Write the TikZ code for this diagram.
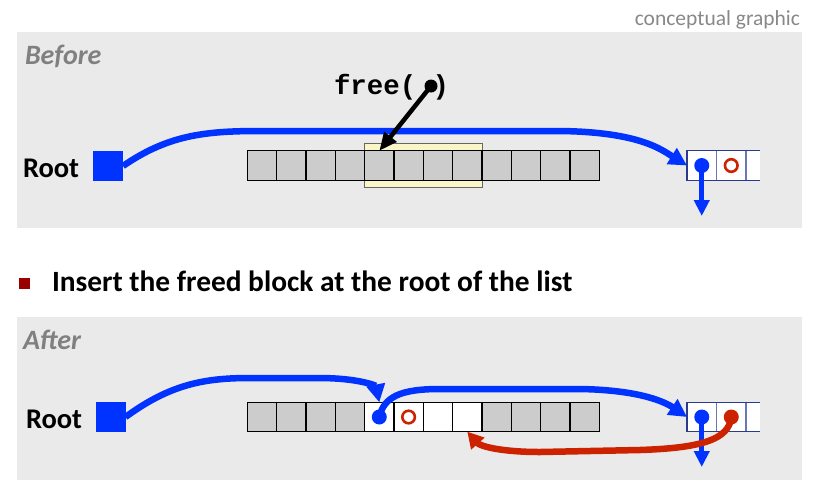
\documentclass[tikz,border=0pt]{standalone}
\usepackage{fontspec}
\setmainfont{Carlito}
\newfontfamily\codefont{Liberation Mono}
\usetikzlibrary{arrows.meta}

\definecolor{panelbg}{HTML}{EAEAEA}
\definecolor{ptrblue}{HTML}{0033FF}
\definecolor{ptrred}{HTML}{CC2200}
\definecolor{cellgray}{HTML}{CCCCCC}
\definecolor{hilite}{HTML}{FAF6C8}
\definecolor{labelgray}{HTML}{808080}
\definecolor{notegray}{HTML}{888888}
\definecolor{bulletred}{HTML}{990000}
\definecolor{listnavy}{HTML}{2B3A8F}
\definecolor{listdiv}{HTML}{6B77B5}

\begin{document}
\begin{tikzpicture}[x=1pt,y=-1pt,
  every node/.style={inner sep=0pt, outer sep=0pt},
  panel/.style={fill=panelbg},
  heapcell/.style={draw=black, line width=1.3pt, fill=cellgray,
    minimum width=29.33pt, minimum height=29.33pt},
  freecell/.style={heapcell, fill=white},
  listcell/.style={fill=white, minimum width=29.5pt, minimum height=29.5pt},
  phase/.style={font=\fontsize{28}{30}\selectfont\bfseries\itshape, text=labelgray, anchor=base west},
  rootlabel/.style={font=\fontsize{28.5}{30}\selectfont\bfseries, anchor=base west},
  rootbox/.style={fill=ptrblue, minimum size=30pt},
  bluedot/.style={circle, fill=ptrblue, minimum size=15pt},
  reddot/.style={circle, fill=ptrred, minimum size=15pt},
  redring/.style={ptrred, line width=2.6pt},
  bluelink/.style={draw=ptrblue, line width=6.5pt, -{Triangle[length=18pt,width=18pt]}},
  redlink/.style={draw=ptrred, line width=6.5pt, -{Triangle[length=16pt,width=17pt]}},
  nextlink/.style={draw=ptrblue, line width=5pt, -{Triangle[length=16pt,width=15pt]}},
  freelink/.style={draw=black, line width=4.5pt, -{Triangle[length=18pt,width=15pt]}}
]
\useasboundingbox (0,0) rectangle (818,480);

% caption in the corner
\node[font=\fontsize{21.5}{24}\selectfont, text=notegray, anchor=base east] (note) at (800,25) {conceptual graphic};

% ---------------- Before ----------------
\fill[panel] (17,32) rectangle (802,228);
\node[phase] (before) at (25,64) {Before};
\node[rootlabel] (rootBtxt) at (23,177) {Root};
\node[rootbox] (rootB) at (108,166) {};

% block being freed
\fill[hilite] (364.3,143.3) rectangle (482.3,187.3);
\draw[line width=1.2pt, draw=black!60] (364.3,143.3) rectangle (482.3,187.3);
\foreach \i in {1,...,12}
  \node[heapcell] (b\i) at ({247.3+29.33*(\i-1)+14.67},165.5) {};

% free list entry
\node[listcell] (lb1) at (701.75,165.5) {};
\node[listcell] (lb2) at (731.25,165.5) {};
\fill[white] (746,150.75) rectangle (760,180.25);
\draw[listdiv, line width=1.2pt] (lb1.north east) -- (lb1.south east);
\draw[listdiv, line width=1.2pt] (lb2.north east) -- (lb2.south east);
\draw[listnavy, line width=1.3pt] (760,150.75) -- (lb1.north west) -- (lb1.south west) -- (760,180.25);
\coordinate (ringB) at (lb2.center);
\draw[redring] (ringB) circle [radius=6.3pt];
\node[bluedot] (dotB) at (lb1.center) {};
\coordinate (downB) at (701.75,216);
\draw[nextlink] (dotB.center) -- (downB);

% root pointer
\coordinate (topB1) at (260,131);
\coordinate (topB2) at (560,131);
\draw[bluelink] (rootB.east) .. controls +(45,-31) and (205,131) .. (topB1)
  -- (topB2) .. controls (640,132) and (662,150) .. (lb1.west);

% call of free
\node[font=\fontsize{27.4}{30}\selectfont\codefont\bfseries, anchor=base west] (call) at (334,94) {free(\ )};
\node[circle, fill=black, minimum size=13pt] (argdot) at (431,86) {};
\draw[freelink] (argdot.center) -- (b5.north);

% ---------------- caption ----------------
\fill[bulletred] (19,278) rectangle (30,289);
\node[font=\fontsize{29.4}{32}\selectfont\bfseries, anchor=base west] (step) at (52,291) {Insert the freed block at the root of the list};

% ---------------- After ----------------
\fill[panel] (17,317) rectangle (802,480);
\node[phase] (after) at (23,349) {After};
\node[rootlabel] (rootAtxt) at (26,428) {Root};
\node[rootbox] (rootA) at (110.5,417) {};

\foreach \i in {1,...,4}
  \node[heapcell] (a\i) at ({247.3+29.33*(\i-1)+14.67},417) {};
\foreach \i in {5,...,8}
  \node[freecell] (a\i) at ({247.3+29.33*(\i-1)+14.67},417) {};
\foreach \i in {9,...,12}
  \node[heapcell] (a\i) at ({247.3+29.33*(\i-1)+14.67},417) {};

\node[listcell] (la1) at (701.75,417) {};
\node[listcell] (la2) at (731.25,417) {};
\fill[white] (746,402.25) rectangle (760,431.75);
\draw[listdiv, line width=1.2pt] (la1.north east) -- (la1.south east);
\draw[listdiv, line width=1.2pt] (la2.north east) -- (la2.south east);
\draw[listnavy, line width=1.3pt] (760,402.25) -- (la1.north west) -- (la1.south west) -- (760,431.75);

\coordinate (ringA) at (408.6,417);
\draw[redring] (ringA) circle [radius=6.3pt];
\node[bluedot] (dotA) at (a5.center) {};
\node[bluedot] (dotL) at (la1.center) {};
\node[reddot] (dotR) at (la2.center) {};

% root now points at the freed block
\coordinate (topA1) at (250,378);
\coordinate (topA2) at (318,378);
\draw[bluelink] (rootA.east) .. controls +(45,-33) and (205,378) .. (topA1)
  -- (topA2) .. controls (360,378) and (376,386) .. (a5.north);

% freed block's next points at old head
\coordinate (topA3) at (440,389);
\coordinate (topA4) at (580,389);
\draw[bluelink] (dotA.center) .. controls (384,397) and (400,389) .. (topA3)
  -- (topA4) .. controls (640,390) and (665,402) .. (la1.west);

\coordinate (downA) at (701.75,467);
\draw[nextlink] (dotL.center) -- (downA);

% old head's prev points back at the freed block
\coordinate (botA1) at (640,450);
\coordinate (botA2) at (540,452);
\draw[redlink] (dotR.center) .. controls (729,440) and (700,448) .. (botA1)
  -- (botA2) .. controls (500,452) and (480,446) .. (a8.south);
\end{tikzpicture}
\end{document}
